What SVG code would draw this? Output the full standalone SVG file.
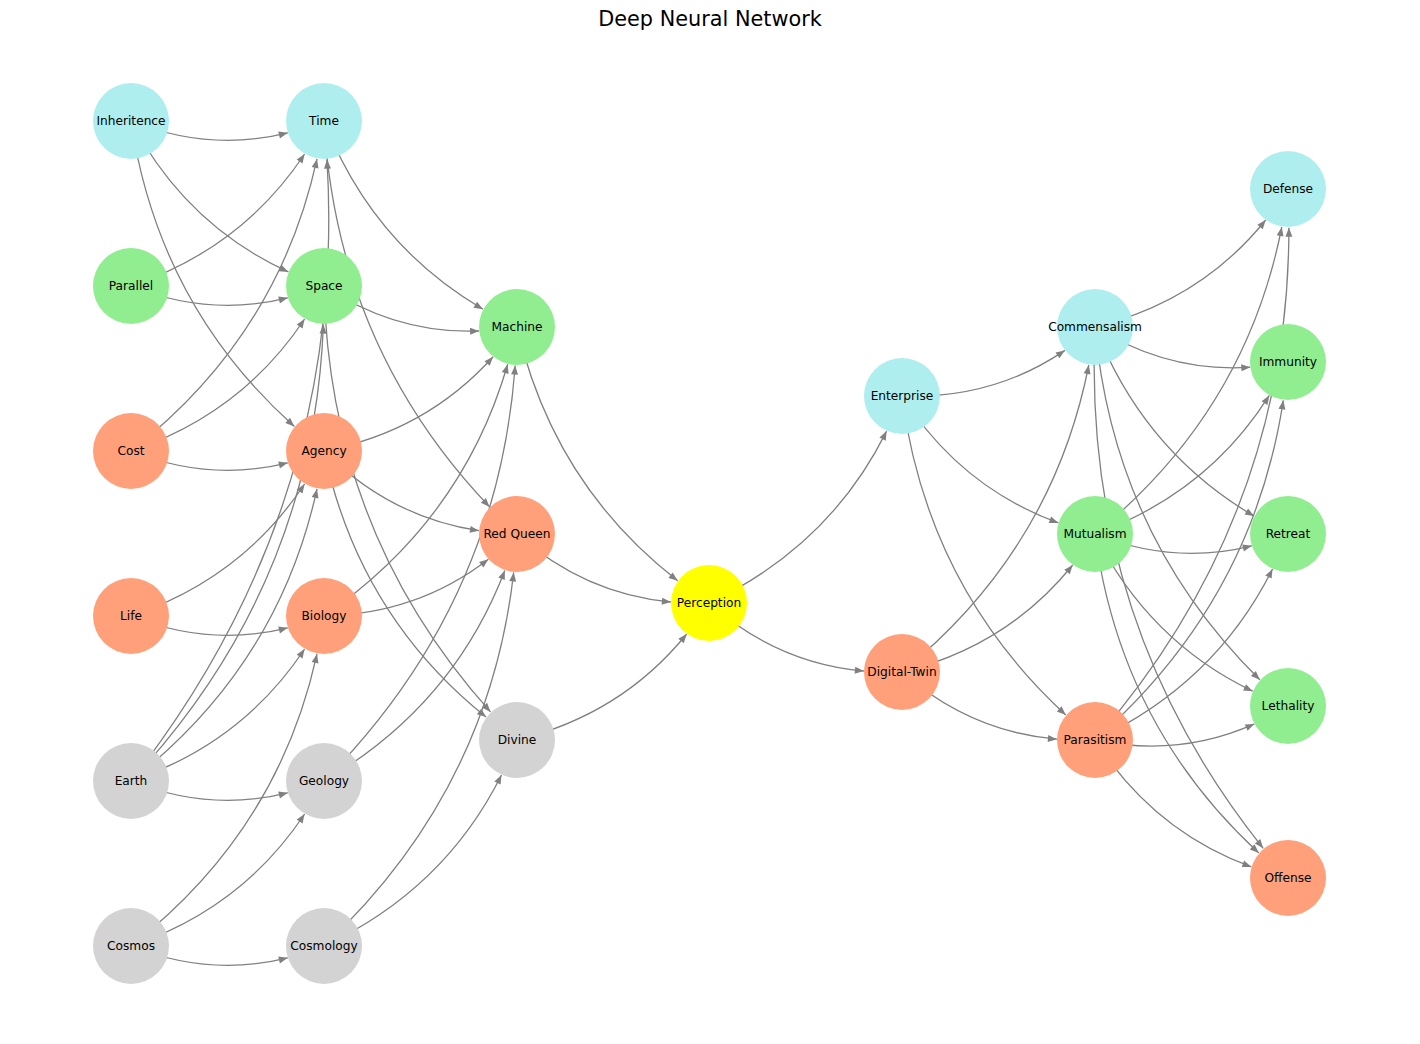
<svg xmlns="http://www.w3.org/2000/svg" width="1420" height="1044" viewBox="0 0 1420 1044">
<style>
.e{fill:none;stroke:#808080;stroke-width:1.3;marker-end:url(#ah)}
.n text{font-family:"DejaVu Sans",sans-serif;font-size:12.2px;fill:#000;text-anchor:middle;dominant-baseline:central}
.c{fill:#AFEEEE}.g{fill:#90EE90}.s{fill:#FFA07A}.y{fill:#D3D3D3}.w{fill:#FFFF00}
.t{font-family:"DejaVu Sans",sans-serif;font-size:20.8px;fill:#000;text-anchor:middle}
</style>
<defs>
<marker id="ah" markerUnits="userSpaceOnUse" markerWidth="10" markerHeight="8" viewBox="0 0 10 8" refX="9" refY="3.5" orient="auto" overflow="visible">
<path d="M0,0 L9,3.5 L0,7 z" fill="#808080"/>
</marker>
</defs>
<rect width="1420" height="1044" fill="#fff"/>
<text class="t" x="710" y="26">Deep Neural Network</text>
<g id="edges">
<path class="e" d="M131,121 Q209.4,152.4 287.8,132.8"/>
<path class="e" d="M131,121 Q185.4,224.8 288.4,271.9"/>
<path class="e" d="M131,121 Q158.6,305.3 294.4,426.4"/>
<path class="e" d="M131,286 Q242,248.4 304.6,154"/>
<path class="e" d="M131,286 Q209.4,317.4 287.8,297.8"/>
<path class="e" d="M131,451 Q278.1,336.6 317,158.9"/>
<path class="e" d="M131,451 Q242,413.4 304.6,319"/>
<path class="e" d="M131,451 Q209.4,482.4 287.8,462.8"/>
<path class="e" d="M131,616 Q242,578.4 304.6,484"/>
<path class="e" d="M131,616 Q209.4,647.4 287.8,627.8"/>
<path class="e" d="M131,781 Q347.5,504.9 327,159.6"/>
<path class="e" d="M131,781 Q313.2,586.3 323.4,324.6"/>
<path class="e" d="M131,781 Q278.1,666.6 317,488.9"/>
<path class="e" d="M131,781 Q242,743.4 304.6,649"/>
<path class="e" d="M131,781 Q209.4,812.4 287.8,792.8"/>
<path class="e" d="M131,946 Q278.1,831.6 317,653.9"/>
<path class="e" d="M131,946 Q242,908.4 304.6,814"/>
<path class="e" d="M131,946 Q209.4,977.4 287.8,957.8"/>
<path class="e" d="M324,121 Q372.2,244.4 483,309.2"/>
<path class="e" d="M324,121 Q336.8,346.6 489.6,506.9"/>
<path class="e" d="M324,286 Q396.1,334.3 479.1,331"/>
<path class="e" d="M324,286 Q329.3,532.1 490.5,711.9"/>
<path class="e" d="M324,451 Q426.2,431.3 493.1,356.8"/>
<path class="e" d="M324,451 Q390.1,517.3 479,530.7"/>
<path class="e" d="M324,451 Q358.7,615 486.1,717.1"/>
<path class="e" d="M324,616 Q462.2,521.1 507.7,364.3"/>
<path class="e" d="M324,616 Q417.4,614 488.4,559.2"/>
<path class="e" d="M324,781 Q497.6,606.4 515.2,365.6"/>
<path class="e" d="M324,781 Q453,705.9 504.8,570.4"/>
<path class="e" d="M324,946 Q488.7,791.9 513.7,572.4"/>
<path class="e" d="M324,946 Q444,889.9 501.5,775"/>
<path class="e" d="M517,327 Q553.4,484.4 677.7,580.7"/>
<path class="e" d="M517,534 Q584.6,594 670.9,602"/>
<path class="e" d="M517,740 Q621.5,714.5 686.7,634"/>
<path class="e" d="M709,603 Q829.3,546.4 886.6,431.1"/>
<path class="e" d="M709,603 Q777.1,663.2 863.9,671"/>
<path class="e" d="M902,396 Q992.8,399.4 1064.9,350.4"/>
<path class="e" d="M902,396 Q960.4,487.2 1058.4,522.9"/>
<path class="e" d="M902,396 Q927.2,587.3 1065.8,714.9"/>
<path class="e" d="M902,672 Q1052.3,550.4 1088.8,365"/>
<path class="e" d="M902,672 Q1007.2,646.2 1072.7,565"/>
<path class="e" d="M902,672 Q970.2,731.8 1056.9,739.2"/>
<path class="e" d="M1095,327 Q1200.2,301.2 1265.7,220"/>
<path class="e" d="M1095,327 Q1168,372.7 1250.3,367.2"/>
<path class="e" d="M1095,327 Q1143.1,450.9 1254.1,516.1"/>
<path class="e" d="M1095,327 Q1113.9,535.7 1259.8,679.8"/>
<path class="e" d="M1095,327 Q1082.1,621.6 1263.2,848.3"/>
<path class="e" d="M1095,534 Q1245.3,412.4 1281.8,227"/>
<path class="e" d="M1095,534 Q1207.6,493.2 1269.3,395.4"/>
<path class="e" d="M1095,534 Q1173.4,565.4 1251.8,545.8"/>
<path class="e" d="M1095,534 Q1148.4,641.2 1252.7,691.2"/>
<path class="e" d="M1095,534 Q1120.2,725.3 1258.8,852.9"/>
<path class="e" d="M1095,740 Q1288.9,517.8 1288.9,227.7"/>
<path class="e" d="M1095,740 Q1252.4,602.4 1283.3,400.3"/>
<path class="e" d="M1095,740 Q1215,683.9 1272.5,569"/>
<path class="e" d="M1095,740 Q1179.2,757.6 1254.4,723.9"/>
<path class="e" d="M1095,740 Q1153.4,831.2 1251.4,866.9"/>
</g>
<g id="nodes" class="n">
<g id="n-inheritence"><circle class="c" cx="131" cy="121" r="38"/><text x="131" y="121">Inheritence</text></g>
<g id="n-parallel"><circle class="g" cx="131" cy="286" r="38"/><text x="131" y="286">Parallel</text></g>
<g id="n-cost"><circle class="s" cx="131" cy="451" r="38"/><text x="131" y="451">Cost</text></g>
<g id="n-life"><circle class="s" cx="131" cy="616" r="38"/><text x="131" y="616">Life</text></g>
<g id="n-earth"><circle class="y" cx="131" cy="781" r="38"/><text x="131" y="781">Earth</text></g>
<g id="n-cosmos"><circle class="y" cx="131" cy="946" r="38"/><text x="131" y="946">Cosmos</text></g>
<g id="n-time"><circle class="c" cx="324" cy="121" r="38"/><text x="324" y="121">Time</text></g>
<g id="n-space"><circle class="g" cx="324" cy="286" r="38"/><text x="324" y="286">Space</text></g>
<g id="n-agency"><circle class="s" cx="324" cy="451" r="38"/><text x="324" y="451">Agency</text></g>
<g id="n-biology"><circle class="s" cx="324" cy="616" r="38"/><text x="324" y="616">Biology</text></g>
<g id="n-geology"><circle class="y" cx="324" cy="781" r="38"/><text x="324" y="781">Geology</text></g>
<g id="n-cosmology"><circle class="y" cx="324" cy="946" r="38"/><text x="324" y="946">Cosmology</text></g>
<g id="n-machine"><circle class="g" cx="517" cy="327" r="38"/><text x="517" y="327">Machine</text></g>
<g id="n-redqueen"><circle class="s" cx="517" cy="534" r="38"/><text x="517" y="534">Red Queen</text></g>
<g id="n-divine"><circle class="y" cx="517" cy="740" r="38"/><text x="517" y="740">Divine</text></g>
<g id="n-perception"><circle class="w" cx="709" cy="603" r="38"/><text x="709" y="603">Perception</text></g>
<g id="n-enterprise"><circle class="c" cx="902" cy="396" r="38"/><text x="902" y="396">Enterprise</text></g>
<g id="n-digitaltwin"><circle class="s" cx="902" cy="672" r="38"/><text x="902" y="672">Digital-Twin</text></g>
<g id="n-commensalism"><circle class="c" cx="1095" cy="327" r="38"/><text x="1095" y="327">Commensalism</text></g>
<g id="n-mutualism"><circle class="g" cx="1095" cy="534" r="38"/><text x="1095" y="534">Mutualism</text></g>
<g id="n-parasitism"><circle class="s" cx="1095" cy="740" r="38"/><text x="1095" y="740">Parasitism</text></g>
<g id="n-defense"><circle class="c" cx="1288" cy="189" r="38"/><text x="1288" y="189">Defense</text></g>
<g id="n-immunity"><circle class="g" cx="1288" cy="362" r="38"/><text x="1288" y="362">Immunity</text></g>
<g id="n-retreat"><circle class="g" cx="1288" cy="534" r="38"/><text x="1288" y="534">Retreat</text></g>
<g id="n-lethality"><circle class="g" cx="1288" cy="706" r="38"/><text x="1288" y="706">Lethality</text></g>
<g id="n-offense"><circle class="s" cx="1288" cy="878" r="38"/><text x="1288" y="878">Offense</text></g>
</g>
</svg>
